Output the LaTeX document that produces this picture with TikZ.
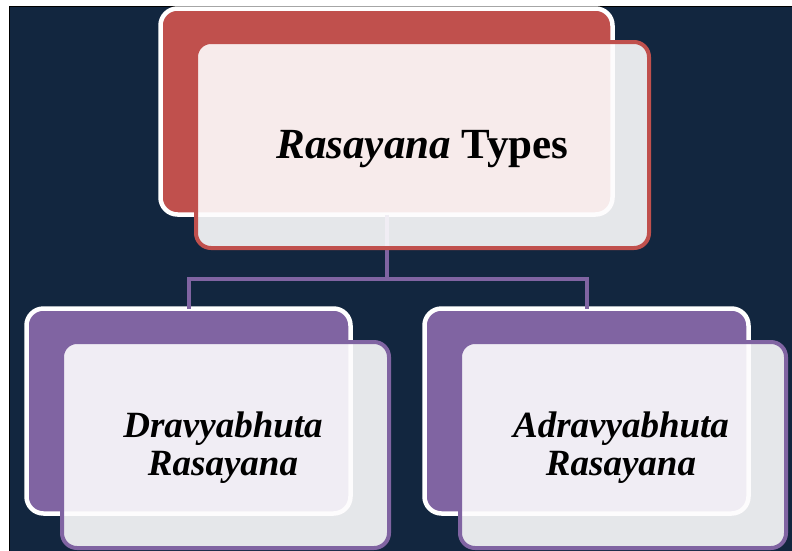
\documentclass[tikz,border=0pt]{standalone}
\usepackage{fontspec}
\setmainfont{Liberation Serif}
\definecolor{navy}{HTML}{12263F}
\definecolor{rsred}{HTML}{C0504D}
\definecolor{rspurple}{HTML}{8064A2}
\definecolor{frontfill}{RGB}{253,252,253}
\begin{document}
\begin{tikzpicture}[x=1pt,y=-1pt,
  backbox/.style={draw=white, line width=4.5pt, rounded corners=17pt, inner sep=0pt, outer sep=0pt},
  frontbox/.style={line width=4pt, rounded corners=15pt, fill=frontfill, fill opacity=0.9, draw opacity=1, inner sep=0pt, outer sep=0pt},
  conn/.style={draw=rspurple, line width=4pt},
  toptext/.style={font=\fontsize{43}{50}\selectfont\bfseries, text=black},
  childtext/.style={font=\fontsize{37}{38}\selectfont\bfseries\itshape, text=black, align=center}]
\useasboundingbox (0,0) rectangle (792,550);
\fill[white] (0,0) rectangle (792,550);
\draw[fill=navy, draw=black, line width=1pt] (9,6) rectangle (800,560);
% back boxes
\node[backbox, fill=rsred, minimum width=452pt, minimum height=206pt] (topback) at (386.5,111.5) {};
\coordinate (j) at (386.5,278.5);
\node[backbox, fill=rspurple, minimum width=324pt, minimum height=205pt] (leftback) at (188.5,411) {};
\node[backbox, fill=rspurple, minimum width=324pt, minimum height=205pt] (rightback) at (586.5,411) {};
% connectors
\draw[conn] (topback.south) -- (j);
\draw[conn] (leftback.north) -- (leftback.north |- j) -- (rightback.north |- j) -- (rightback.north);
% front boxes
\node[frontbox, draw=rsred, minimum width=453pt, minimum height=206pt] (topfront) at (422.5,145) {};
\node[frontbox, draw=rspurple, minimum width=327pt, minimum height=206pt] (leftfront) at (225.5,445) {};
\node[frontbox, draw=rspurple, minimum width=326pt, minimum height=206pt] (rightfront) at (623,445) {};
% texts
\node[toptext, anchor=base] (toplabel) at (422.5,158) {\textit{Rasayana} Types};
\node[childtext] (leftlabel) at (223,447.5) {Dravyabhuta\\Rasayana};
\node[childtext] (rightlabel) at (621,447.5) {Adravyabhuta\\Rasayana};
\end{tikzpicture}
\end{document}
